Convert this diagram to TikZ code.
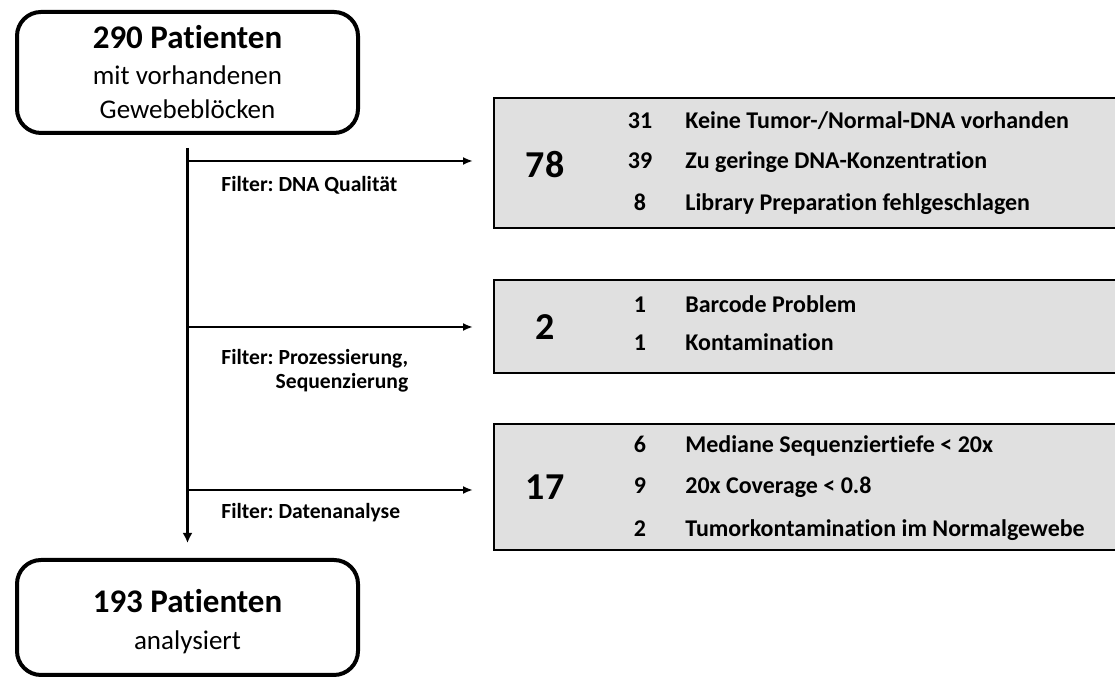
\documentclass[tikz,border=0pt]{standalone}
\usepackage{fontspec}
\setmainfont{Carlito}[Ligatures=NoCommon]
\usetikzlibrary{positioning,arrows.meta}
\definecolor{boxgray}{RGB}{224,224,224}
\frenchspacing

\begin{document}
\begin{tikzpicture}[x=0.5pt,y=0.5pt,patbox/.style={draw, rounded corners=12pt, line width=2pt, minimum width=170.5pt, align=center, inner sep=0pt, font=\fontsize{13.5}{17}\selectfont},dropbox/.style={draw, fill=boxgray, line width=1pt, minimum width=318pt, inner sep=0pt},filterlbl/.style={font=\fontsize{10.8}{12}\selectfont\bfseries, align=right, inner sep=0pt, anchor=west},bignum/.style={font=\fontsize{19}{21}\selectfont\bfseries, inner sep=0pt},cnt/.style={font=\fontsize{12}{14}\selectfont\bfseries, inner sep=0pt, text height=1.5ex, text depth=.3ex},reason/.style={cnt, anchor=west},flow/.style={line width=1.3pt, -{Latex[length=5pt,width=4pt]}}]
  \useasboundingbox (0,0) rectangle (1115,678);
  \clip (0,0) rectangle (1115,678);
  \node[patbox, minimum height=60.5pt] (start) at (187.5,605.5) {{\fontsize{16.5}{18}\selectfont\bfseries 290 Patienten}\\[1pt]mit vorhandenen\\Gewebeblöcken};
  \node[patbox, minimum height=57.5pt] (done) at (187.5,60.5) {\rule{0pt}{16pt}{\fontsize{16.5}{18}\selectfont\bfseries 193 Patienten}\\[1.5pt]analysiert};
  \node[dropbox, minimum height=65pt] (drop1) at (812,515) {};
  \node[dropbox, minimum height=46.5pt] (drop2) at (812,351.5) {};
  \node[dropbox, minimum height=63pt] (drop3) at (812,191) {};
  \node[bignum] (total1) at (545,513) {78};
  \node[cnt] (n1a) at (640,555) {31};
  \node[cnt] (n1b) at (640,515) {39};
  \node[cnt] (n1c) at (640,473) {8};
  \node[reason] (r1a) at (685,555) {Keine Tumor-/Normal-DNA vorhanden};
  \node[reason] (r1b) at (685,515) {Zu geringe DNA-Konzentration};
  \node[reason] (r1c) at (685,473) {Library Preparation fehlgeschlagen};
  \node[bignum] (total2) at (545,351) {2};
  \node[cnt] (n2a) at (640,371) {1};
  \node[cnt] (n2b) at (640,333) {1};
  \node[reason] (r2a) at (685,371) {Barcode Problem};
  \node[reason] (r2b) at (685,333) {Kontamination};
  \node[bignum] (total3) at (545,191) {17};
  \node[cnt] (n3a) at (640,231) {6};
  \node[cnt] (n3b) at (640,190) {9};
  \node[cnt] (n3c) at (640,147) {2};
  \node[reason] (r3a) at (685,231) {Mediane Sequenziertiefe < 20x};
  \node[reason] (r3b) at (685,190) {20x Coverage < 0.8};
  \node[reason] (r3c) at (685,147) {Tumorkontamination im Normalgewebe};
  \node[filterlbl] (f1) at (221,493) {Filter: DNA Qualität};
  \node[filterlbl] (f2) at (221,307) {Filter: Prozessierung,\\Sequenzierung};
  \node[filterlbl] (f3) at (221,165) {Filter: Datenanalyse};
  \coordinate (split1) at (187.5,517);
  \coordinate (split2) at (187.5,351);
  \coordinate (split3) at (187.5,188);
  \draw[line width=1.6pt, -{Latex[length=5pt,width=5pt]}] ([yshift=-6.5pt]start.south) -- ([yshift=7.5pt]done.north);
  \draw[flow] (split1) -- ([xshift=-10pt]split1 -| drop1.west);
  \draw[flow] (split2) -- ([xshift=-10pt]split2 -| drop2.west);
  \draw[flow] (split3) -- ([xshift=-10pt]split3 -| drop3.west);
\end{tikzpicture}
\end{document}
